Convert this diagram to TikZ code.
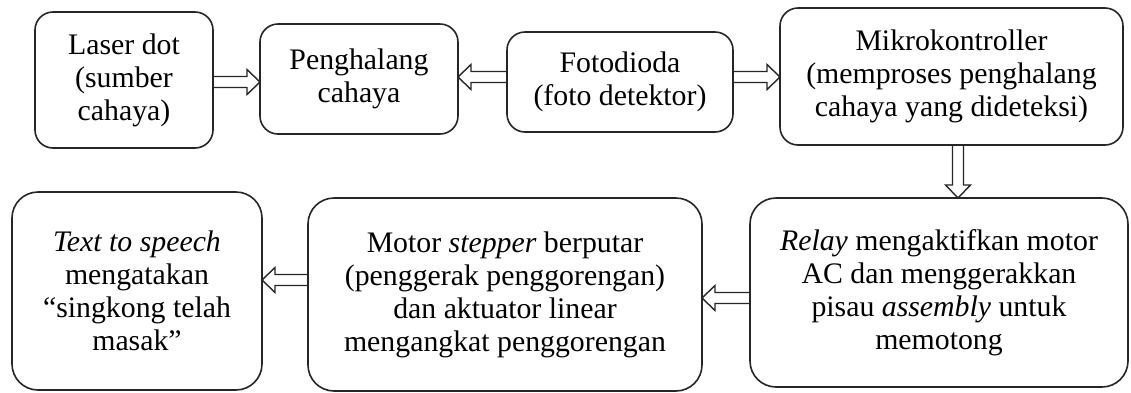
\documentclass[tikz,border=0pt]{standalone}
\usepackage{fontspec}
\setmainfont{Liberation Serif}
\usetikzlibrary{calc}

\tikzset{
  blok/.style={draw=black!85, line width=0.8pt, rounded corners=9pt, align=center,
    inner sep=0pt, outer sep=0pt, font=\fontsize{14.9}{16.5}\selectfont},
  panah/.style={draw=black!85, line width=0.7pt, line join=miter,
    to path={let \p1=(\tikztostart), \p2=(\tikztotarget), \p3=($(\p2)!6.5pt!(\p1)$) in
      ($(\p1)!2.75pt!90:(\p2)$) -- ($(\p3)!2.75pt!-90:(\p1)$) -- ($(\p3)!6.25pt!-90:(\p1)$) -- (\p2)
      -- ($(\p3)!6.25pt!90:(\p1)$) -- ($(\p3)!2.75pt!90:(\p1)$) -- ($(\p1)!2.75pt!-90:(\p2)$)}}
}

\begin{document}
\begin{tikzpicture}[x=0.5pt, y=-0.5pt]
  \useasboundingbox (0,0) rectangle (1131,392);
  \node[blok, minimum width=89pt, minimum height=68pt] (laser) at (124,80) {Laser dot\\(sumber\\cahaya)};
  \node[blok, minimum width=99pt, minimum height=55pt] (penghalang) at (359,79) {Penghalang\\cahaya};
  \node[blok, minimum width=113pt, minimum height=50pt] (fotodioda) at (620,82) {Fotodioda\\(foto detektor)};
  \node[blok, minimum width=171.5pt, minimum height=68.5pt] (mikro) at (951.5,76.5) {Mikrokontroller\\(memproses penghalang\\cahaya yang dideteksi)};
  \node[blok, rounded corners=13pt, minimum width=125pt, minimum height=99pt] (tts) at (137,291) {\textit{Text to speech}\\mengatakan\\“singkong telah\\masak”};
  \node[blok, rounded corners=13pt, minimum width=197pt, minimum height=96.5pt] (motor) at (505,294.5) {Motor \textit{stepper} berputar\\(penggerak penggorengan)\\dan aktuator linear\\mengangkat penggorengan};
  \node[blok, rounded corners=13pt, minimum width=189pt, minimum height=94.5pt] (relay) at (939,292.5) {\textit{Relay} mengaktifkan motor\\AC dan menggerakkan\\pisau \textit{assembly} untuk\\memotong};
  \draw[panah] (laser.east |- 0,82) to (penghalang.west |- 0,82);
  \draw[panah] (fotodioda.west |- 0,77) to (penghalang.east |- 0,77);
  \draw[panah] (fotodioda.east |- 0,77) to (mikro.west |- 0,77);
  \draw[panah] (mikro.south -| 958,0) to (relay.north -| 958,0);
  \draw[panah] (relay.west |- 0,298) to (motor.east |- 0,298);
  \draw[panah] (motor.west |- 0,280) to (tts.east |- 0,280);
\end{tikzpicture}
\end{document}
